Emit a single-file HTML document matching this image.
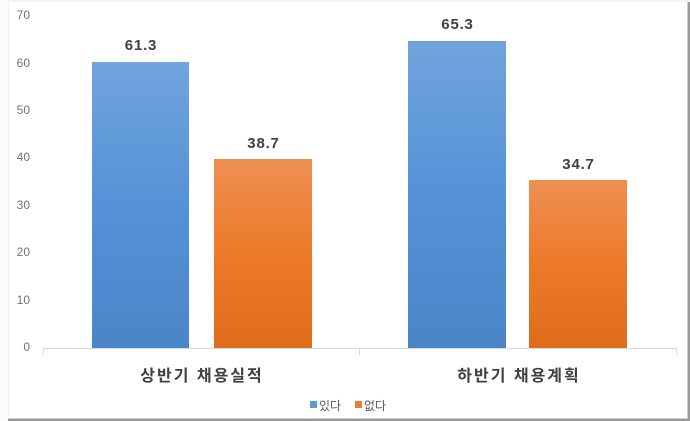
<!DOCTYPE html>
<html><head><meta charset="utf-8"><style>
html,body{margin:0;padding:0;background:#fff;}
svg{display:block;}
</style></head><body>
<svg width="690" height="421" viewBox="0 0 690 421" xmlns="http://www.w3.org/2000/svg">
<defs>
<linearGradient id="gb" x1="0" y1="0" x2="0" y2="1">
<stop offset="0" stop-color="#70a4dd"/>
<stop offset="0.5" stop-color="#5592d6"/>
<stop offset="1" stop-color="#4a86c7"/>
</linearGradient>
<linearGradient id="go" x1="0" y1="0" x2="0" y2="1">
<stop offset="0" stop-color="#ee8f52"/>
<stop offset="0.5" stop-color="#ec7a29"/>
<stop offset="1" stop-color="#df6c1b"/>
</linearGradient>
</defs>
<rect x="0" y="0" width="690" height="421" fill="#fff"/>
<rect x="0" y="0" width="690" height="2" fill="#f4f4f4"/>
<rect x="0" y="0" width="8" height="421" fill="#fbfbfb"/>
<line x1="8.5" y1="2" x2="8.5" y2="418" stroke="#f0f0f0" stroke-width="1"/>
<rect x="688" y="2" width="2" height="419" fill="#9a9a9a"/>
<rect x="8" y="419" width="682" height="2" fill="#9a9a9a"/>
<rect x="687" y="2" width="1" height="417" fill="#cfcfcf"/>
<rect x="8" y="418" width="680" height="1" fill="#cfcfcf"/>

<g font-family="'Liberation Sans', 'Noto Sans CJK KR', sans-serif" font-size="12" fill="#737373" text-anchor="end">
<text x="30" y="19">70</text>
<text x="30" y="67">60</text>
<text x="30" y="114">50</text>
<text x="30" y="161">40</text>
<text x="30" y="209">30</text>
<text x="30" y="256">20</text>
<text x="30" y="304">10</text>
<text x="30" y="351">0</text>
</g>

<rect x="92" y="62" width="97" height="286" fill="url(#gb)"/>
<rect x="214" y="159" width="98" height="189" fill="url(#go)"/>
<rect x="408" y="41" width="98" height="307" fill="url(#gb)"/>
<rect x="529" y="180" width="98" height="168" fill="url(#go)"/>

<g stroke="#d9d9d9" stroke-width="1" fill="none">
<line x1="43" y1="348.5" x2="677" y2="348.5"/>
<line x1="43.5" y1="348" x2="43.5" y2="355"/>
<line x1="359.5" y1="348" x2="359.5" y2="355"/>
<line x1="676.5" y1="348" x2="676.5" y2="355"/>
</g>

<g font-family="'Liberation Sans', 'Noto Sans CJK KR', sans-serif" font-size="15" font-weight="bold" fill="#404040" text-anchor="middle" letter-spacing="0.8">
<text x="141" y="50">61.3</text>
<text x="263.5" y="148">38.7</text>
<text x="457.5" y="29">65.3</text>
<text x="578.5" y="169">34.7</text>
</g>

<g font-family="'Liberation Sans', 'Noto Sans CJK KR', sans-serif" font-size="16" font-weight="bold" fill="#404040" text-anchor="middle" letter-spacing="2">
<text x="202" y="381">상반기 채용실적</text>
<text x="519" y="381">하반기 채용계획</text>
</g>

<rect x="310" y="401" width="7" height="7" fill="#5b9bd5"/>
<rect x="355" y="401" width="7" height="7" fill="#ed7d31"/>
<g font-family="'Liberation Sans', 'Noto Sans CJK KR', sans-serif" font-size="12" fill="#595959">
<text x="319" y="410">있다</text>
<text x="364" y="410">없다</text>
</g>
</svg>
</body></html>
